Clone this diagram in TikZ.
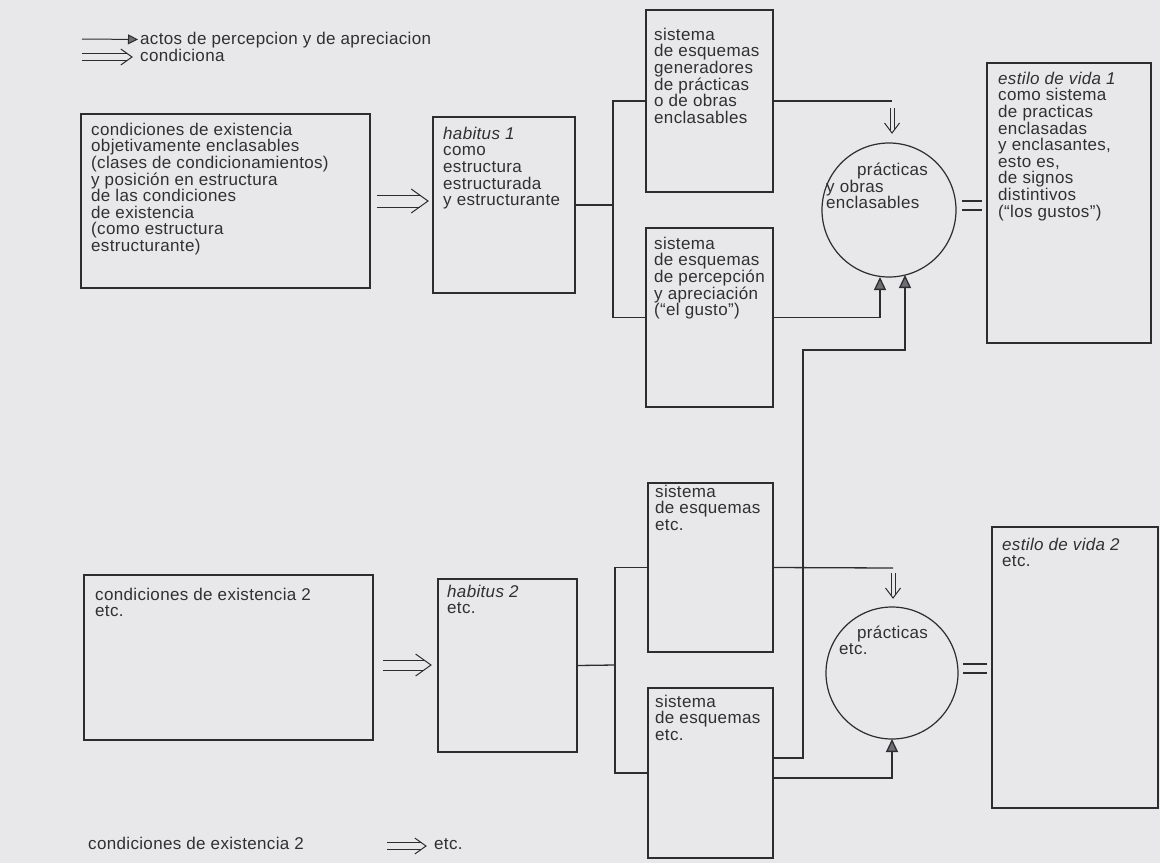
\documentclass[tikz,border=0pt]{standalone}
\usepackage{fontspec}
\setmainfont{Liberation Sans}[LetterSpace=2]
\usetikzlibrary{arrows.meta,calc}
\definecolor{paper}{RGB}{232,232,235}
\definecolor{ink}{RGB}{45,45,48}
\definecolor{txtc}{RGB}{48,48,50}
\definecolor{trif}{RGB}{110,110,114}
\newcommand{\fl}{\rule{0pt}{13pt}}
% double "condiciona" arrow: #1 start, #2 tip, #3 half gap, #4 head half-height
\newcommand{\condarrow}[4]{%
  \draw[thinln] ($(#1)+(0,-#3)$) -- ($(#2)+(-1.4*#3,-#3)$);
  \draw[thinln] ($(#1)+(0,#3)$) -- ($(#2)+(-1.4*#3,#3)$);
  \draw[thinln, line join=miter] ($(#2)+(-1.4*#4,-#4)$) -- (#2) -- ($(#2)+(-1.4*#4,#4)$);
}
% open double down arrow: #1 top, #2 tip
\newcommand{\dnarr}[2]{%
  \draw[thinln] ($(#1)+(-2,0)$) -- ($(#2)+(-2,-2.7)$);
  \draw[thinln] ($(#1)+(2,0)$) -- ($(#2)+(2,-2.7)$);
  \draw[thinln, line join=miter] ($(#2)+(-7.5,-10)$) -- (#2) -- ($(#2)+(7.5,-10)$);
}
\begin{document}
\begin{tikzpicture}[x=1pt,y=-1pt,
  ln/.style={draw=ink, line width=1.3pt},
  thinln/.style={draw=ink, line width=1pt},
  box/.style={draw=ink, line width=1.3pt, inner sep=0pt, outer sep=0pt, anchor=north west},
  circ/.style={draw=ink, line width=1.2pt, circle, inner sep=0pt, outer sep=0pt},
  txt/.style={anchor=north west, inner sep=0pt, align=left, text=txtc, font=\fontsize{17}{16.6}\selectfont},
  tri/.style={-{Triangle[fill=trif, length=13pt, width=12pt]}},
  smalltri/.style={-{Triangle[fill=trif, length=10pt, width=10pt]}},
]
\fill[paper] (0,0) rectangle (1160,863);
\useasboundingbox (0,0) rectangle (1160,863);

% ---------- legend ----------
\node[txt] (lt1) at (140,31) {\fl actos de percepcion y de apreciacion};
\node[txt] (lt2) at (140,48) {\fl condiciona};
\coordinate (lg1) at (82,39);
\draw[thinln, smalltri] (lg1) -- ($(lt1.west)+(-2,0)$);
\coordinate (lg2s) at (82,57);
\coordinate (lg2t) at (132,57);
\condarrow{lg2s}{lg2t}{3.5}{8}

% ---------- upper half ----------
\node[box, minimum width=289pt, minimum height=174pt] (c1) at (81,114) {};
\node[txt] (c1t) at (91,122) {\fl condiciones de existencia\\objetivamente enclasables\\(clases de condicionamientos)\\y posición en estructura\\de las condiciones\\de existencia\\(como estructura\\estructurante)};

\node[box, minimum width=142pt, minimum height=176pt] (h1) at (433,117) {};
\node[txt] (h1t) at (443,126) {\fl\textit{habitus 1}\\como\\estructura\\estructurada\\y estructurante};

\coordinate (a1s) at (377,201);
\coordinate (a1t) at (428,201);
\condarrow{a1s}{a1t}{6}{12}

\node[box, minimum width=127pt, minimum height=182pt] (sA) at (646,10) {};
\node[txt] (sAt) at (654,27) {\fl sistema\\de esquemas\\generadores\\de prácticas\\o de obras\\enclasables};

\node[box, minimum width=127pt, minimum height=179pt] (sB) at (646,228) {};
\node[txt] (sBt) at (654,236) {\fl sistema\\de esquemas\\de percepción\\y apreciación\\(“el gusto”)};

\coordinate (j1) at (613,205);
\draw[ln] (h1.east) -- (j1);
\draw[ln] (sA.west) -| (j1) |- (sB.west);

\node[circ, minimum size=134pt] (p1) at (889,210) {};
\node[txt, font=\fontsize{17}{15.5}\selectfont] (p1t) at (826,162) {\fl\hspace*{31pt}prácticas\\y obras\\enclasables};

\coordinate (a2) at (892,101);
\draw[ln] (sA.east) -- (a2);
\coordinate (d1s) at (892,108);
\coordinate (d1t) at (892,133);
\dnarr{d1s}{d1t}

\coordinate (t1) at (880,277);
\draw[ln, tri] (sB.east) -| (t1);

\node[box, minimum width=164pt, minimum height=280pt] (e1) at (987,63) {};
\node[txt] (e1t) at (998,71) {\fl\textit{estilo de vida 1}\\como sistema\\de practicas\\enclasadas\\y enclasantes,\\esto es,\\de signos\\distintivos\\(“los gustos”)};

\draw[ln] ($(p1.east)+(6,-9)$) -- ($(e1.west |- p1.east)+(-5,-9)$);
\draw[ln] ($(p1.east)+(6,0)$) -- ($(e1.west |- p1.east)+(-5,0)$);

% ---------- lower half ----------
\node[box, minimum width=289pt, minimum height=165pt] (c2) at (84,575) {};
\node[txt] (c2t) at (95,587) {\fl condiciones de existencia 2\\etc.};

\coordinate (b1s) at (383,665);
\coordinate (b1t) at (431,665);
\condarrow{b1s}{b1t}{5}{11}

\node[box, minimum width=139pt, minimum height=173pt] (h2) at (438,579) {};
\node[txt] (h2t) at (447,584) {\fl\textit{habitus 2}\\etc.};

\node[box, minimum width=125pt, minimum height=169pt] (sC) at (648,483) {};
\node[txt] (sCt) at (655,484) {\fl sistema\\de esquemas\\etc.};

\node[box, minimum width=125pt, minimum height=170pt] (sD) at (648,688) {};
\node[txt] (sDt) at (655,694) {\fl sistema\\de esquemas\\etc.};

\coordinate (j2) at (615,665);
\draw[ln] (h2.east) -- (j2);
\draw[ln] (sC.west) -| (j2) |- (sD.west);

\node[circ, minimum size=132pt] (p2) at (892,673) {};
\node[txt] (p2t) at (839,625) {\fl\hspace*{18pt}prácticas\\etc.};

\coordinate (c2a) at (893,568);
\draw[ln] (sC.east) -- (c2a);
\coordinate (d2s) at (893,573);
\coordinate (d2t) at (893,598);
\dnarr{d2s}{d2t}

\coordinate (sDu) at (773,758);
\coordinate (k1) at (803,350);
\coordinate (t2) at (905,275);
\draw[ln, tri] (sDu) -| (k1) -| (t2);

\coordinate (sDd) at (773,778);
\coordinate (t3) at (892,739);
\draw[ln, tri] (sDd) -| (t3);

\node[box, minimum width=166pt, minimum height=281pt] (e2) at (992,527) {};
\node[txt] (e2t) at (1002,537) {\fl\textit{estilo de vida 2}\\etc.};

\draw[ln] ($(p2.east)+(5,-9)$) -- ($(e2.west |- p2.east)+(-5,-9)$);
\draw[ln] ($(p2.east)+(5,0)$) -- ($(e2.west |- p2.east)+(-5,0)$);

% ---------- bottom legend ----------
\node[txt] (bl1) at (88,836) {\fl condiciones de existencia 2};
\node[txt] (bl2) at (434,836) {\fl etc.};
\coordinate (bls) at (387,846);
\coordinate (blt) at (426,846);
\condarrow{bls}{blt}{3.5}{8}
\end{tikzpicture}
\end{document}
